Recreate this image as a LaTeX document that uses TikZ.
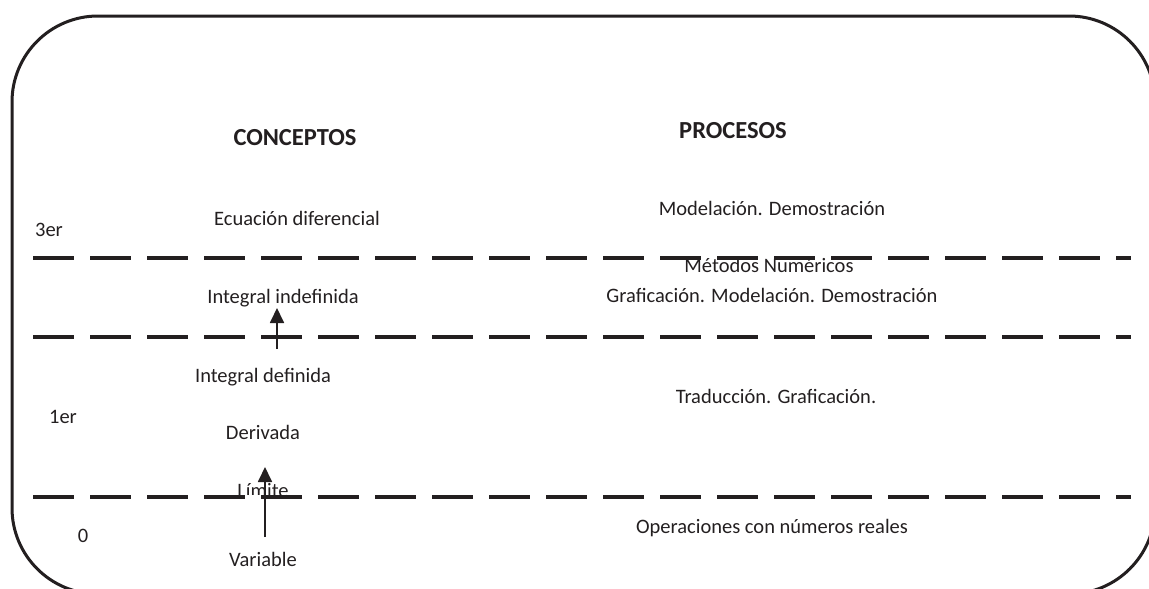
\documentclass[tikz,border=0pt]{standalone}
\usepackage{fontspec}
\setmainfont{Carlito}
\usetikzlibrary{arrows.meta}
\definecolor{ink}{HTML}{231F20}
\begin{document}
\begin{tikzpicture}[x=1pt,y=-1pt,
  lbl/.style={text=ink,font=\fontsize{20.5}{22}\selectfont,inner sep=0pt,anchor=center},
  head/.style={text=ink,font=\fontsize{24.5}{26}\selectfont\bfseries,inner sep=0pt,anchor=center},
  sep/.style={draw=ink,line width=4pt,dash pattern=on 41pt off 16pt},
  up/.style={draw=ink,line width=1.8pt,-{Triangle[width=14pt,length=15pt]}}]
\useasboundingbox (0,0) rectangle (1149,589);
\begin{scope}
\clip (0,0) rectangle (1149,589);
\draw[ink,line width=3pt,rounded corners=86pt] (12,16) rectangle (1155,594);
\end{scope}
% dashed separators
\coordinate (s1a) at (33,258); \coordinate (s1b) at (1131,258);
\coordinate (s2a) at (33,337); \coordinate (s2b) at (1131,337);
\coordinate (s3a) at (33,497); \coordinate (s3b) at (1131,497);
\draw[sep] (s1a) -- (s1b);
\draw[sep] (s2a) -- (s2b);
\draw[sep] (s3a) -- (s3b);
% headings
\node[head] (conc) at (295,138) {CONCEPTOS};
\node[head] (proc) at (733,131) {PROCESOS};
% level labels
\node[lbl] (l3) at (49,230) {3er};
\node[lbl] (l1) at (63,417) {1er};
\node[lbl] (l0) at (83,536) {0};
% concepts
\node[lbl] (ecu) at (297,218) {Ecuación diferencial};
\node[lbl] (iind) at (283,298) {Integral indefinida};
\node[lbl] (idef) at (263,377) {Integral definida};
\node[lbl] (der) at (263,432) {Derivada};
\begin{scope}
\clip (200,470) rectangle (330,494);
\node[lbl] (lim) at (263,491) {Límite};
\end{scope}
\node[lbl] (var) at (263,559) {Variable};
% processes
\node[lbl] (p3) at (772,208) {Modelación. Demostración};
\node[lbl] (pmn) at (769,265) {Métodos Numéricos};
\node[lbl] (p2) at (772,295) {Graficación. Modelación. Demostración};
\node[lbl] (p1) at (776,396) {Traducción. Graficación.};
\node[lbl] (p0) at (772,528) {Operaciones con números reales};
% arrows
\coordinate (a1s) at (277,349); \coordinate (a1e) at (277,308);
\coordinate (a2s) at (265,537); \coordinate (a2e) at (265,467);
\draw[up] (a1s) -- (a1e);
\draw[up] (a2s) -- (a2e);
\end{tikzpicture}
\end{document}
